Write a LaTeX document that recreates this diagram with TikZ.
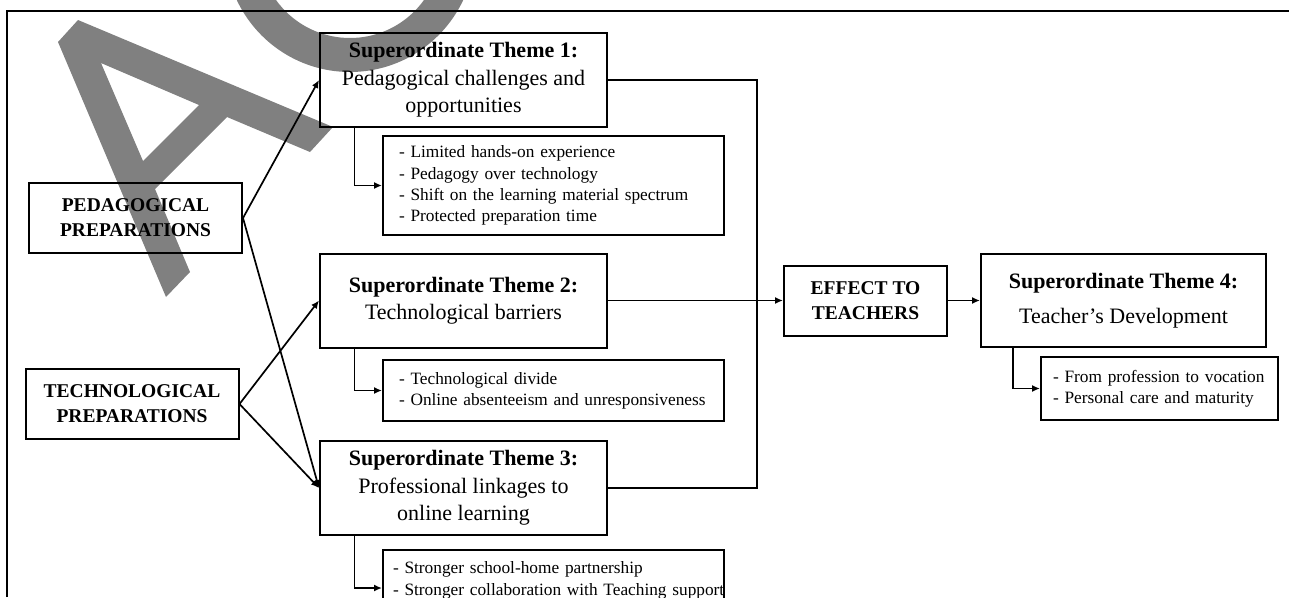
\documentclass[tikz,border=0pt]{standalone}
\usepackage{fontspec}
\setmainfont{Liberation Serif}
\usetikzlibrary{arrows.meta}
\tikzset{
  wm/.style={fill=gray},
  frameline/.style={line width=2.2pt},
  thbox/.style={draw, line width=2pt, align=center, inner sep=0pt, minimum width=287pt, minimum height=94pt, font=\fontsize{22}{27.5}\selectfont},
  capbox/.style={draw, line width=2pt, align=center, inner sep=0pt, minimum height=70pt, font=\fontsize{19.5}{25}\selectfont\bfseries},
  subbox/.style={draw, line width=2pt, align=left, inner ysep=0pt, font=\fontsize{17.3}{21.3}\selectfont},
  conn/.style={line width=1.7pt},
  arr/.style={line width=1.7pt, -{Latex[length=8pt,width=7pt]}},
}
\begin{document}
\begin{tikzpicture}[x=1pt,y=-1pt]
\useasboundingbox (0,0) rectangle (1289,597);
\clip (0,0) rectangle (1289,597);
% watermark letters (behind the diagram)
\fill[wm, even odd rule] (58,42) -- (78,20) -- (333,127) -- (310,152) -- (227,117) -- (155,189) -- (190,272) -- (166,297) -- cycle
  (101,63) -- (199,105) -- (143,161) -- cycle;
\fill[wm, even odd rule] (350,-53) circle (125) (350,-53) circle (91);
% frame
\draw[frameline] (7,597) -- (7,11) -- (1289,11);
% nodes
\node[capbox, minimum width=213pt] (ped) at (135.5,218) {PEDAGOGICAL\\PREPARATIONS};
\node[capbox, minimum width=213pt] (tech) at (132,404) {TECHNOLOGICAL\\PREPARATIONS};
\node[thbox] (t1) at (463.5,80) {{\bfseries Superordinate Theme 1:}\\Pedagogical challenges and\\opportunities};
\node[thbox] (t2) at (463.5,300.5) {{\bfseries Superordinate Theme 2:}\\Technological barriers};
\node[thbox] (t3) at (463.5,488) {{\bfseries Superordinate Theme 3:}\\Professional linkages to\\online learning};
\node[subbox, text width=309pt, inner xsep=16pt, minimum height=99pt] (s1) at (553.5,185.5)
  {\mbox{- Limited hands-on experience}\\\mbox{- Pedagogy over technology}\\\mbox{- Shift on the learning material spectrum}\\\mbox{- Protected preparation time}};
\node[subbox, text width=309pt, inner xsep=16pt, minimum height=61pt] (s2) at (553.5,390.5)
  {\mbox{- Technological divide}\\\mbox{- Online absenteeism and unresponsiveness}};
\node[subbox, text width=321pt, inner xsep=10pt, minimum height=61pt, anchor=north] (s3) at (553.5,549)
  {\mbox{- Stronger school-home partnership}\\\mbox{- Stronger collaboration with Teaching support}};
\node[capbox, minimum width=163pt] (eff) at (865.5,300.5) {EFFECT TO\\TEACHERS};
\node[thbox, minimum width=285pt, minimum height=93pt] (t4) at (1123.5,300.5) {{\bfseries Superordinate Theme 4:}\\[8pt]Teacher’s Development};
\node[subbox, text width=213pt, inner xsep=12pt, minimum height=63pt] (s4) at (1159.5,388.5)
  {\mbox{- From profession to vocation}\\\mbox{- Personal care and maturity}};
\coordinate (j) at (757,300.5);
% connectors
\draw[arr] (ped.east) -- (t1.west);
\draw[arr] (ped.east) -- (t3.west);
\draw[arr] (tech.east) -- (t2.west);
\draw[arr] (tech.east) -- (t3.west);
\draw[arr] ([xshift=35.5pt]t1.south west) |- (s1.west);
\draw[arr] ([xshift=35.5pt]t2.south west) |- (s2.west);
\draw[arr] ([xshift=35.5pt]t3.south west) |- ([yshift=-7.5pt]s3.west);
\draw[conn] (t1.east) -| (j) |- (t3.east);
\draw[arr] (t2.east) -- (eff.west);
\draw[arr] (eff.east) -- (t4.west);
\draw[arr] ([xshift=33pt]t4.south west) |- (s4.west);
\end{tikzpicture}
\end{document}
